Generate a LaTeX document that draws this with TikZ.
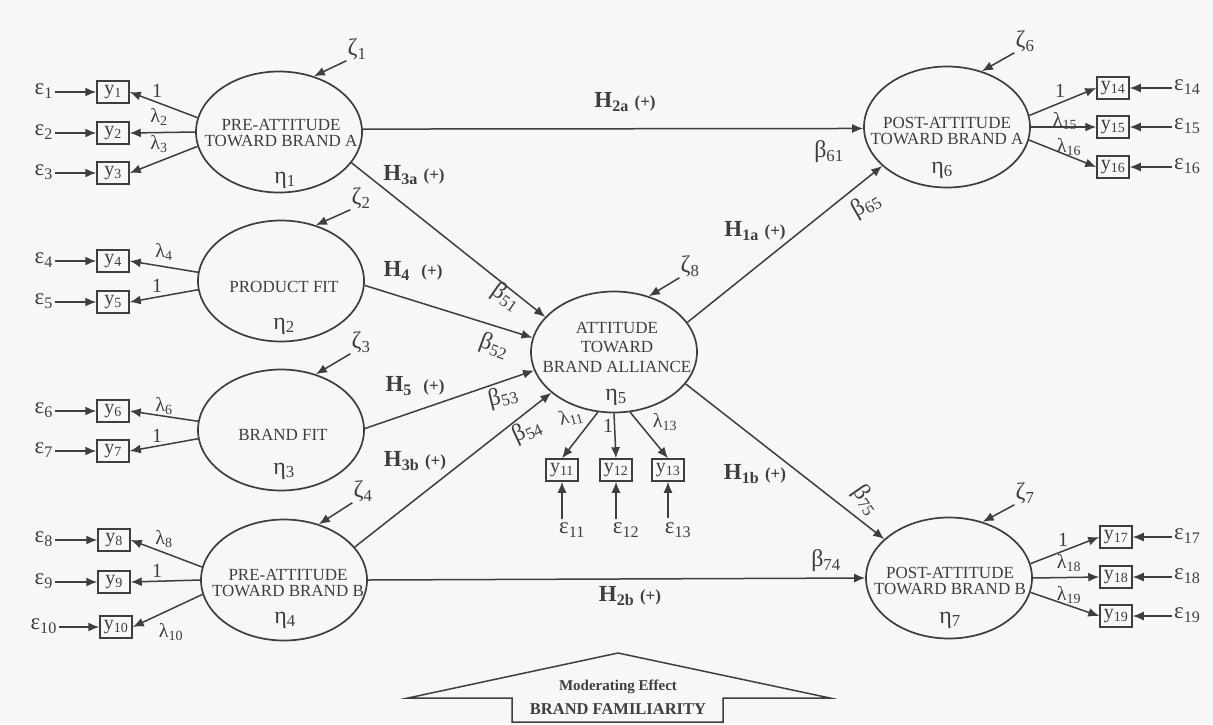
\documentclass[tikz,border=0pt]{standalone}
\usepackage{fontspec}
\setmainfont{Liberation Serif}
\usetikzlibrary{shapes.geometric,arrows.meta}
\definecolor{ink}{RGB}{62,62,62}
\definecolor{paper}{RGB}{247,247,247}
\newcommand\sbx[1]{\textsubscript{#1}}
\newcommand\pls{{\fontsize{17}{17}\selectfont(+)}}
\begin{document}
\begin{tikzpicture}[x=1pt,y=-1pt,
  lat/.style={draw=ink, line width=1.7pt, ellipse, inner sep=0pt, minimum width=166pt, minimum height=121pt},
  ltxt/.style={align=center, text=ink, inner sep=0pt, font=\fontsize{17}{16}\selectfont},
  obs/.style={draw=ink, line width=1.5pt, rectangle, inner sep=1pt, minimum width=32pt, minimum height=22pt, text=ink, font=\fontsize{20}{20}\selectfont},
  arr/.style={draw=ink, line width=1.5pt, -{Latex[length=11pt,width=9pt]}},
  glab/.style={text=ink, inner sep=1pt, font=\fontsize{24}{24}\selectfont},
  slab/.style={text=ink, inner sep=1pt, font=\fontsize{20}{20}\selectfont},
  elab/.style={text=ink, inner sep=2pt, font=\fontsize{23}{24}\selectfont},
  hlab/.style={text=ink, inner sep=1pt, font=\fontsize{23}{24}\selectfont\bfseries}
]
\fill[paper] (0,0) rectangle (1213,724);
\useasboundingbox (0,0) rectangle (1213,724);

% latent variables
\node[lat] (e1) at (279,132) {};
\node[lat] (e2) at (281,281) {};
\node[lat] (e3) at (281,430) {};
\node[lat] (e4) at (284,580) {};
\node[lat] (e5) at (614,352) {};
\node[lat] (e6) at (947,127) {};
\node[lat] (e7) at (949,578) {};

\node[ltxt] (t1) at (281,133) {PRE-ATTITUDE\\TOWARD BRAND A};
\node[ltxt] (t2) at (284,287) {PRODUCT FIT};
\node[ltxt] (t3) at (283,435) {BRAND FIT};
\node[ltxt] (t4) at (288,583) {PRE-ATTITUDE\\TOWARD BRAND B};
\node[ltxt, font=\fontsize{17}{19.5}\selectfont] (t5) at (617,347) {ATTITUDE\\TOWARD\\BRAND ALLIANCE};
\node[ltxt] (t6) at (947,131) {POST-ATTITUDE\\TOWARD BRAND A};
\node[ltxt] (t7) at (950,581) {POST-ATTITUDE\\TOWARD BRAND B};

\node[glab] (n1) at (285,180) {η\sbx{1}};
\node[glab] (n2) at (284,326) {η\sbx{2}};
\node[glab] (n3) at (284,471) {η\sbx{3}};
\node[glab] (n4) at (285,620) {η\sbx{4}};
\node[glab] (n5) at (616,397) {η\sbx{5}};
\node[glab] (n6) at (942,170) {η\sbx{6}};
\node[glab] (n7) at (950,620) {η\sbx{7}};

% disturbances
\node[glab] (z1) at (357,49) {ζ\sbx{1}};
\node[glab] (z2) at (361,198) {ζ\sbx{2}};
\node[glab] (z3) at (361,342) {ζ\sbx{3}};
\node[glab] (z4) at (363,491) {ζ\sbx{4}};
\node[glab] (z8) at (690,266) {ζ\sbx{8}};
\node[glab] (z6) at (1025,41) {ζ\sbx{6}};
\node[glab] (z7) at (1025,493) {ζ\sbx{7}};
\draw[arr] (z1.south west) -- (e1.58);
\draw[arr] (z2.south west) -- (e2.58);
\draw[arr] (z3.south west) -- (e3.58);
\draw[arr] (z4.south west) -- (e4.58);
\draw[arr] (z8.south west) -- (e5.58);
\draw[arr] (z6.south west) -- (e6.58);
\draw[arr] (z7.south west) -- (e7.59);

% observed indicators, left
\node[obs] (y1) at (113,92) {y\sbx{1}};
\node[obs] (y2) at (113,133) {y\sbx{2}};
\node[obs] (y3) at (113,173) {y\sbx{3}};
\node[obs] (y4) at (113,261) {y\sbx{4}};
\node[obs] (y5) at (113,302) {y\sbx{5}};
\node[obs] (y6) at (113,411) {y\sbx{6}};
\node[obs] (y7) at (113,451) {y\sbx{7}};
\node[obs] (y8) at (114,540) {y\sbx{8}};
\node[obs] (y9) at (114,582) {y\sbx{9}};
\node[obs] (y10) at (116,627) {y\sbx{10}};
% right
\node[obs] (y14) at (1113,88) {y\sbx{14}};
\node[obs] (y15) at (1113,127) {y\sbx{15}};
\node[obs] (y16) at (1113,167) {y\sbx{16}};
\node[obs] (y17) at (1116,537) {y\sbx{17}};
\node[obs] (y18) at (1116,577) {y\sbx{18}};
\node[obs] (y19) at (1116,616) {y\sbx{19}};
% centre
\node[obs] (y11) at (562,470) {y\sbx{11}};
\node[obs] (y12) at (616,470) {y\sbx{12}};
\node[obs] (y13) at (668,470) {y\sbx{13}};

% measurement errors
\foreach \i/\yy in {1/92,2/133,3/173,4/261,5/302,6/411,7/451,8/540,9/582}{
  \node[elab, anchor=mid east] (eps\i) at (55,\yy) {ε\sbx{\i}};
  \draw[arr] (eps\i.mid east) -- (y\i.west);
}
\node[elab, anchor=mid east] (eps10) at (59,627) {ε\sbx{10}};
\draw[arr] (eps10.mid east) -- (y10.west);
\foreach \i/\yy in {14/88,15/127,16/167,17/537,18/577,19/616}{
  \node[elab, anchor=mid west] (eps\i) at (1172,\yy) {ε\sbx{\i}};
  \draw[arr] (eps\i.mid west) -- (y\i.east);
}
\node[elab, inner sep=4pt] (eps11) at (572,530) {ε\sbx{11}};
\node[elab, inner sep=4pt] (eps12) at (626,530) {ε\sbx{12}};
\node[elab, inner sep=4pt] (eps13) at (678,530) {ε\sbx{13}};
\draw[arr] (eps11.north -| y11) -- (y11.south);
\draw[arr] (eps12.north -| y12) -- (y12.south);
\draw[arr] (eps13.north -| y13) -- (y13.south);

% loadings
\draw[arr] (e1.170) -- (y1.east);
\draw[arr] (e1.180) -- (y2.east);
\draw[arr] (e1.190) -- (y3.east);
\draw[arr] (e2.174) -- (y4.east);
\draw[arr] (e2.186) -- (y5.east);
\draw[arr] (e3.174) -- (y6.east);
\draw[arr] (e3.186) -- (y7.east);
\draw[arr] (e4.171) -- (y8.east);
\draw[arr] (e4.180) -- (y9.east);
\draw[arr] (e4.190) -- (y10.east);
\draw[arr] (e6.8) -- (y14.west);
\draw[arr] (e6.0) -- (y15.west);
\draw[arr] (e6.-9) -- (y16.west);
\draw[arr] (e7.10) -- (y17.west);
\draw[arr] (e7.0) -- (y18.west);
\draw[arr] (e7.-10) -- (y19.west);
\draw[arr] (e5.255) -- (y11.north);
\draw[arr] (e5.270) -- (y12.north);
\draw[arr] (e5.285) -- (y13.north);

\node[slab] (l1) at (157,91) {1};
\node[slab] (l2) at (159,117) {λ\sbx{2}};
\node[slab] (l3) at (159,144) {λ\sbx{3}};
\node[slab] (l4) at (164,252) {λ\sbx{4}};
\node[slab] (l5) at (157,286) {1};
\node[slab] (l6) at (164,406) {λ\sbx{6}};
\node[slab] (l7) at (157,436) {1};
\node[slab] (l8) at (164,539) {λ\sbx{8}};
\node[slab] (l9) at (157,571) {1};
\node[slab] (l10) at (171,632) {λ\sbx{10}};
\node[slab] (l14) at (1060,91) {1};
\node[slab] (l15) at (1065,121) {λ\sbx{15}};
\node[slab] (l16) at (1069,147) {λ\sbx{16}};
\node[slab] (l17) at (1063,540) {1};
\node[slab] (l18) at (1069,563) {λ\sbx{18}};
\node[slab] (l19) at (1069,595) {λ\sbx{19}};
\node[slab, rotate=15] (l11) at (571,417) {λ\sbx{11}};
\node[slab] (l12) at (608,426) {1};
\node[slab] (l13) at (665,422) {λ\sbx{13}};

% structural paths
\draw[arr] (e1.2) -- (e6.181);
\draw[arr] (e1.-23) -- (e5.153);
\draw[arr] (e2.-3) -- (e5.170);
\draw[arr] (e3.1) -- (e5.193);
\draw[arr] (e4.25) -- (e5.213);
\draw[arr] (e5.22) -- (e6.211);
\draw[arr] (e5.-24) -- (e7.149);
\draw[arr] (e4.0) -- (e7.180);

\node[hlab] (h2a) at (625,102) {H\sbx{2a} \pls};
\node[hlab] (h3a) at (414,175) {H\sbx{3a} \pls};
\node[hlab] (h4) at (413,271) {H\sbx{4}\ \ \pls};
\node[hlab] (h5) at (415,386) {H\sbx{5}\ \ \pls};
\node[hlab] (h3b) at (415,461) {H\sbx{3b} \pls};
\node[hlab] (h1a) at (755,231) {H\sbx{1a} \pls};
\node[hlab] (h1b) at (755,474) {H\sbx{1b} \pls};
\node[hlab] (h2b) at (630,596) {H\sbx{2b} \pls};

\node[glab, rotate=-35] (b51) at (506,297) {β\sbx{51}};
\node[glab, rotate=-20] (b52) at (494,346) {β\sbx{52}};
\node[glab, rotate=14] (b53) at (503,397) {β\sbx{53}};
\node[glab, rotate=25] (b54) at (527,431) {β\sbx{54}};
\node[glab] (b61) at (829,152) {β\sbx{61}};
\node[glab, rotate=30] (b65) at (866,205) {β\sbx{65}};
\node[glab, rotate=-55] (b75) at (866,500) {β\sbx{75}};
\node[glab] (b74) at (826,561) {β\sbx{74}};

% moderator arrow
\draw[draw=ink, line width=1.5pt, line join=miter] (408,698) -- (618,653) -- (830,698) -- (723,698) -- (723,722) -- (512,722) -- (512,698) -- cycle;
\node[text=ink, inner sep=0pt, font=\fontsize{15}{15}\selectfont\bfseries] (mod1) at (618,687) {Moderating Effect};
\node[text=ink, inner sep=0pt, font=\fontsize{16.5}{16}\selectfont\bfseries] (mod2) at (618,709) {BRAND FAMILIARITY};
\end{tikzpicture}
\end{document}
